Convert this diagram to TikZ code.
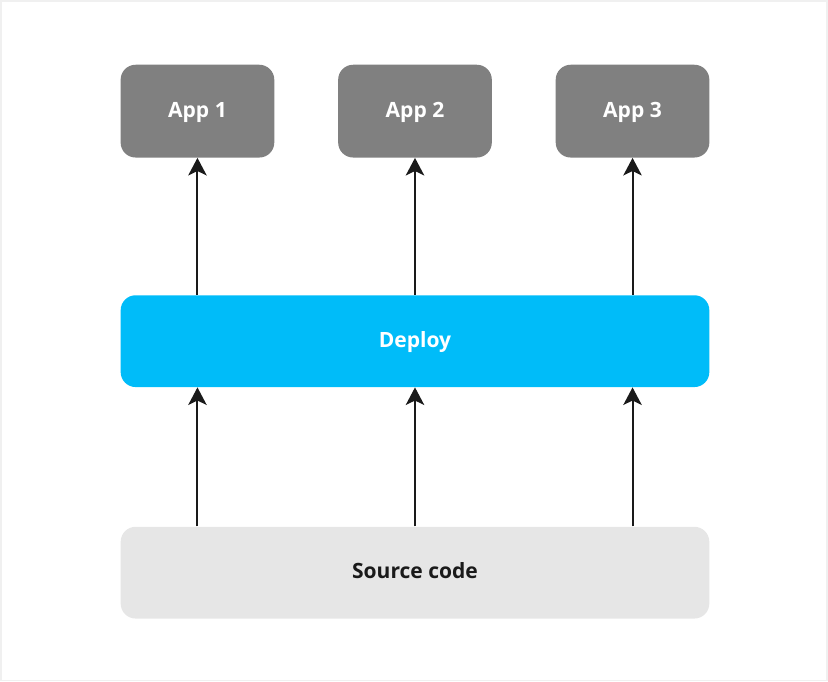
\documentclass[tikz,border=0pt]{standalone}
\usepackage{fontspec}
\setmainfont{Open Sans}
\usetikzlibrary{arrows.meta}

\definecolor{appgray}{HTML}{808080}
\definecolor{deployblue}{HTML}{00BCF9}
\definecolor{srcgray}{HTML}{E6E6E6}
\definecolor{ink}{HTML}{1A1A1A}

\tikzset{
  app/.style={fill=appgray, rounded corners=0.3cm, minimum width=3.08cm, minimum height=1.86cm, text height=1.31ex, text depth=0pt, text=white, font=\bfseries\fontsize{12}{14}\selectfont},
  wide/.style={rounded corners=0.3cm, minimum width=11.8cm, minimum height=1.84cm, text height=1.31ex, text depth=0pt, font=\bfseries\fontsize{12}{14}\selectfont},
  arr/.style={draw=ink, line width=1.1pt, -{Stealth[length=10pt,width=10.5pt,inset=2.5pt]}}
}

\begin{document}
\begin{tikzpicture}[x=0.02cm,y=-0.02cm]

\draw[gray!12, line width=1pt] (0,0) rectangle (828,681);
\useasboundingbox (0,0) rectangle (828,681);

\node[app] (app1) at (197,110.5) {App 1};
\node[app] (app2) at (415,110.5) {App 2};
\node[app] (app3) at (633,110.5) {App 3};

\node[wide, fill=deployblue, text=white] (deploy) at (415,341) {Deploy};
\node[wide, fill=srcgray, text=ink] (src) at (415,573) {Source code};

\draw[arr] (deploy.north -| app1.south) -- (app1.south);
\draw[arr] (deploy.north -| app2.south) -- (app2.south);
\draw[arr] (deploy.north -| app3.south) -- (app3.south);

\draw[arr] (src.north -| app1.south) -- (deploy.south -| app1.south);
\draw[arr] (src.north -| app2.south) -- (deploy.south -| app2.south);
\draw[arr] (src.north -| app3.south) -- (deploy.south -| app3.south);

\end{tikzpicture}
\end{document}
